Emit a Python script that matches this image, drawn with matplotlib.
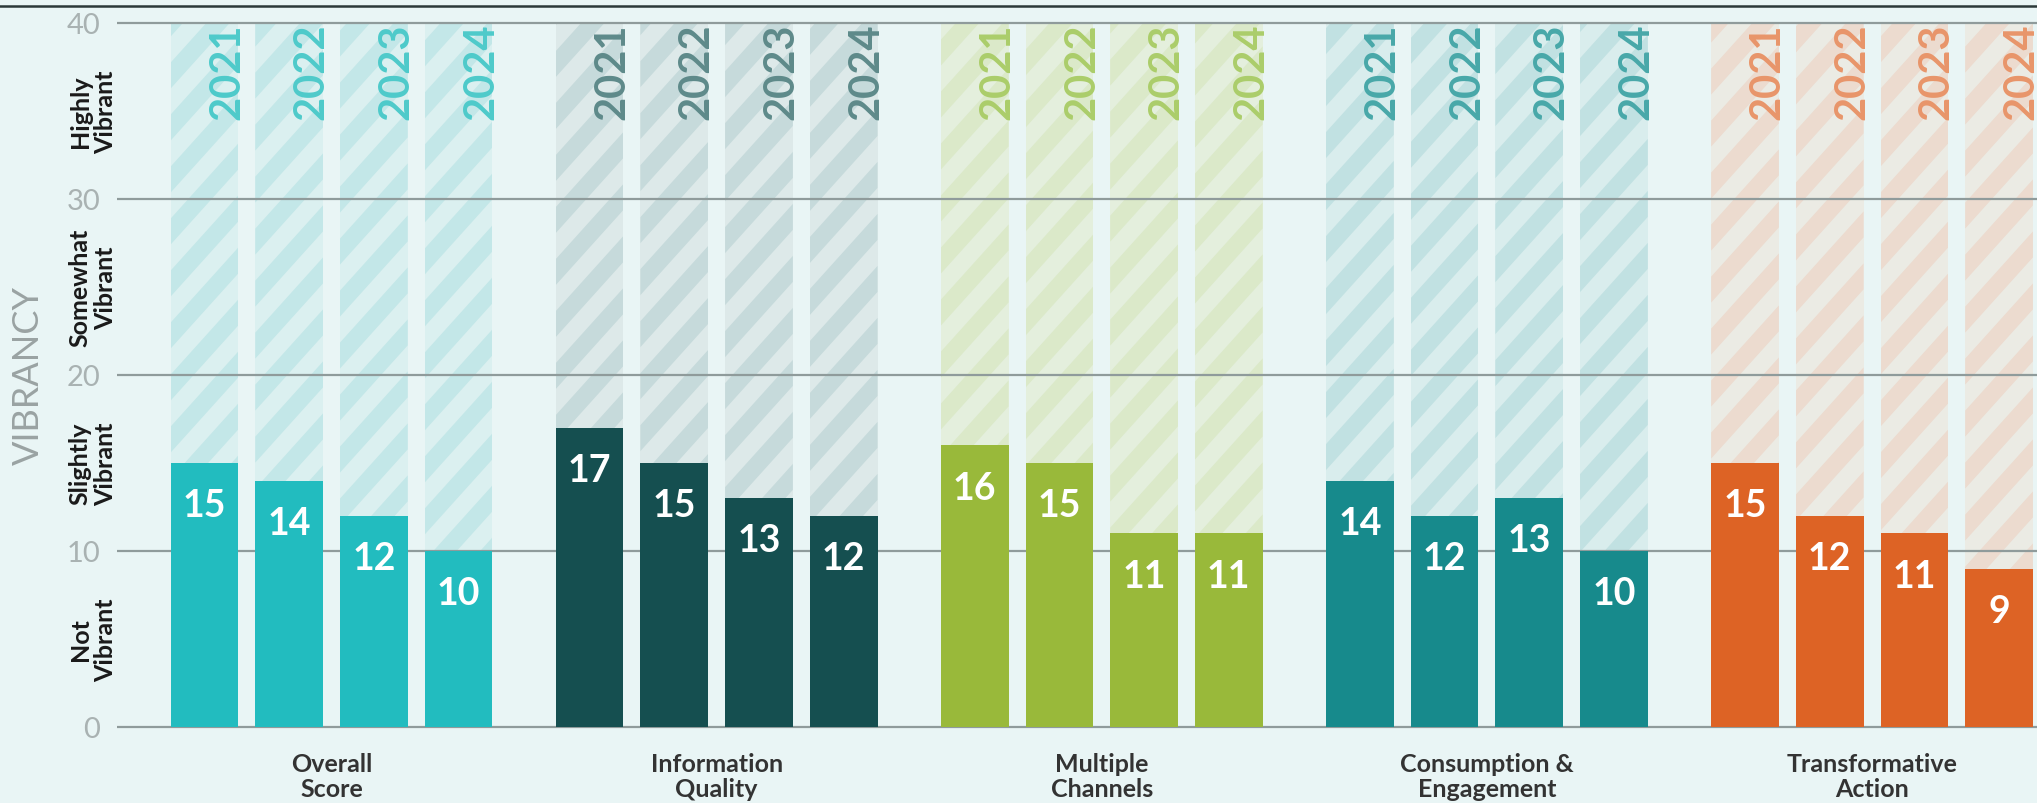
import matplotlib
matplotlib.use("Agg")
import matplotlib.pyplot as plt
import matplotlib.transforms as mtransforms
from matplotlib.patches import Polygon
from matplotlib.lines import Line2D

# --- data -----------------------------------------------------------------
categories = ["Overall\nScore", "Information\nQuality", "Multiple\nChannels",
              "Consumption &\nEngagement", "Transformative\nAction"]
years = ["2021", "2022", "2023", "2024"]
overall = [15, 14, 12, 10]
information_quality = [17, 15, 13, 12]
multiple_channels = [16, 15, 11, 11]
consumption_engagement = [14, 12, 13, 10]
transformative_action = [15, 12, 11, 9]
scale_max = 40
y_ticks = [0, 10, 20, 30, 40]
band_labels = ["Not\nVibrant", "Slightly\nVibrant", "Somewhat\nVibrant", "Highly\nVibrant"]
band_centers = [5, 15, 25, 35]
axis_title = "VIBRANCY"

series = [overall, information_quality, multiple_channels,
          consumption_engagement, transformative_action]

# --- style ----------------------------------------------------------------
FONT = "Lato"
BG = "#e9f5f5"
bar_colors = ["#22bcbf", "#154f50", "#99b93a", "#178a8c", "#dd6325"]
track_colors = ["#dbf0f0", "#dde9e9", "#e4efdd", "#d9eded", "#ebebe4"]
stripe_colors = ["#c3e7e8", "#c6dadb", "#dbe9c9", "#c1e1e2", "#ecdbcf"]
year_colors = ["#4ecaca", "#5e8a8a", "#abcd6a", "#48a8a9", "#e8956a"]

group_pitch = 4.548
bar_width = 0.80

fig = plt.figure(figsize=(20.37, 8.04), dpi=100, facecolor=BG)
ax = fig.add_axes([117 / 2037, 76 / 804, 1 - 117 / 2037, 704 / 804])
ax.set_facecolor(BG)
xmin, xmax = -1.033, 21.64
ax.set_xlim(xmin, xmax)
ax.set_ylim(0, scale_max)
for s in ax.spines.values():
    s.set_visible(False)

# pixel scale, used to keep the diagonal stripes at a fixed on-screen angle
px_x = ax.get_position().width * fig.get_figwidth() * fig.dpi / (xmax - xmin)
px_y = ax.get_position().height * fig.get_figheight() * fig.dpi / scale_max
slope = 1.11 * px_x / px_y          # ~48 degrees on screen
period = 52 / px_y                   # vertical repeat of the stripes
stripe_w = 26 / px_y

trans = mtransforms.blended_transform_factory(ax.transData, ax.transAxes)

for g, (vals, bc, tc, sc, yc) in enumerate(zip(series, bar_colors, track_colors,
                                               stripe_colors, year_colors)):
    xs = [g * group_pitch + i for i in range(len(years))]
    tracks = ax.bar(xs, [scale_max] * len(xs), width=bar_width, color=tc,
                    zorder=1, linewidth=0)
    for i, (x, patch) in enumerate(zip(xs, tracks.patches)):
        x0, x1 = x - bar_width / 2, x + bar_width / 2
        # stripe family: y = slope * x + k * period
        k0 = int((0 - slope * x1) // period) - 1
        k1 = int((scale_max - slope * x0) // period) + 2
        for k in range(k0, k1):
            c = k * period
            poly = Polygon([(x0, slope * x0 + c), (x1, slope * x1 + c),
                            (x1, slope * x1 + c + stripe_w),
                            (x0, slope * x0 + c + stripe_w)],
                           closed=True, facecolor=sc, edgecolor="none",
                           zorder=1.5)
            ax.add_patch(poly)
            poly.set_clip_path(patch)
        ax.text(x1 + 0.09, scale_max, years[i], rotation=90,
                ha="right", va="top", fontsize=30, fontfamily=FONT,
                fontweight="bold", color=yc, zorder=2.5)

    ax.bar(xs, vals, width=bar_width, color=bc, zorder=3, linewidth=0)
    for x, v in zip(xs, vals):
        ax.text(x, v - 2.4, str(v), ha="center", va="center", fontsize=27,
                fontfamily=FONT, fontweight="bold", color="white", zorder=4)

    ax.text(g * group_pitch + 1.5, -0.035, categories[g], transform=trans,
            ha="center", va="top", fontsize=18, fontfamily=FONT,
            fontweight="bold", color="#333333", linespacing=1.1)

# horizontal guide lines
ax.hlines(y_ticks, xmin, xmax, colors="#8f9b9b", linewidth=1.6, zorder=2,
          clip_on=False)

ax.set_xticks([])
ax.set_yticks(y_ticks)
ax.set_yticklabels([str(t) for t in y_ticks], fontsize=21, fontfamily=FONT,
                   color="#a9b2b2")
ax.tick_params(axis="y", length=0, pad=12)

# band names along the scale
ytrans = mtransforms.blended_transform_factory(ax.transAxes, ax.transData)
for lab, yc in zip(band_labels, band_centers):
    ax.text(-0.0125, yc, lab, transform=ytrans, rotation=90, ha="center",
            va="center", fontsize=18, fontfamily=FONT, fontweight="bold",
            color="#1a1a1a", linespacing=1.15, multialignment="center")

ax.text(-0.0464, 20, axis_title, transform=ytrans, rotation=90, ha="center",
        va="center", fontsize=26, fontfamily=FONT, fontweight="normal",
        color="#9aa3a3")

# thin frame line across the top
fig.add_artist(Line2D([0, 1], [1 - 7 / 804, 1 - 7 / 804], color="#2b3838",
                      linewidth=1.8, transform=fig.transFigure))

fig.savefig("out.png", dpi=100, facecolor=BG)
